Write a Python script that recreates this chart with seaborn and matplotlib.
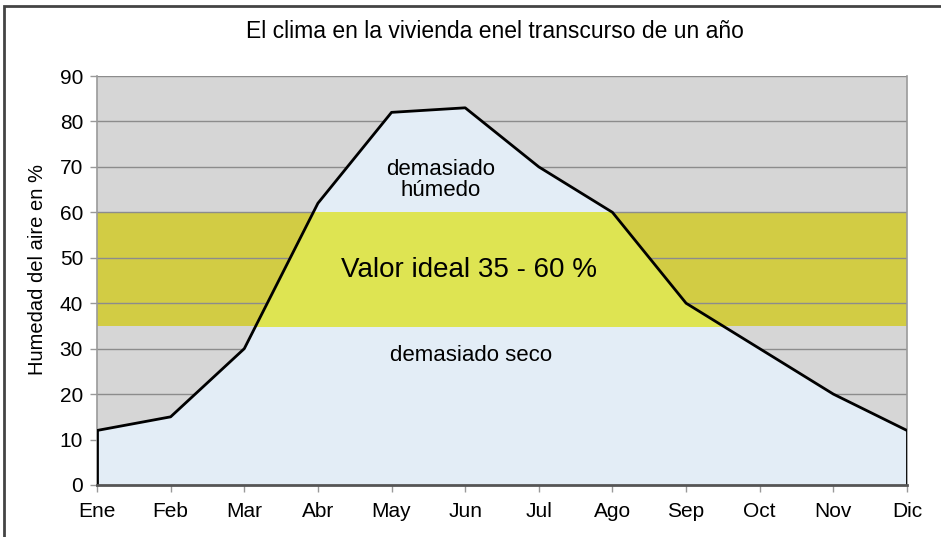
import numpy as np
import pandas as pd
import matplotlib
matplotlib.use("Agg")
import matplotlib.pyplot as plt
import seaborn as sns
from matplotlib.patches import Rectangle

months = ["Ene", "Feb", "Mar", "Abr", "May", "Jun", "Jul", "Ago", "Sep", "Oct", "Nov", "Dic"]
humidity = [12, 15, 30, 62, 82, 83, 70, 60, 40, 30, 20, 12]
ideal_low, ideal_high = 35, 60
yticks = [0, 10, 20, 30, 40, 50, 60, 70, 80, 90]

title = "El clima en la vivienda enel transcurso de un año"
ylabel = "Humedad del aire en %"

sns.set_theme(style="white")
plt.rcParams["font.family"] = ["Liberation Sans", "DejaVu Sans"]
plt.rcParams["text.color"] = "black"
plt.rcParams["axes.labelcolor"] = "black"

df = pd.DataFrame({"idx": np.arange(len(months)), "hum": humidity})

fig = plt.figure(figsize=(9.41, 5.37), dpi=100)
ax = fig.add_axes([97/941, 1-485/537, (907-97)/941, (485-76)/537])

ax.set_facecolor("#d6d6d6")
ax.axhspan(ideal_low, ideal_high, color="#d2cc44", zorder=0.8, lw=0)

ax.set_axisbelow("line")
ax.yaxis.grid(True, color="#8c8c8c", lw=1.0)
ax.xaxis.grid(False)

x = df["idx"].values
y = df["hum"].values
ax.fill_between(x, 0, y, color="#e3edf6", lw=0, zorder=2)
yel = ax.fill_between(x, 0, y, color="#dee452", lw=0, zorder=2.1)
clip = Rectangle((x[0], ideal_low), x[-1]-x[0], ideal_high-ideal_low, transform=ax.transData)
yel.set_clip_path(clip)

sns.lineplot(data=df, x="idx", y="hum", color="black", lw=2, ax=ax, zorder=3)
ax.vlines([x[0], x[-1]], 0, [y[0], y[-1]], color="black", lw=2, zorder=3)

ax.set_xlim(x[0], x[-1])
ax.set_ylim(0, 90)
ax.set_xticks(x)
ax.set_xticklabels(months)
ax.set_yticks(yticks)
ax.set_xlabel("")
ax.set_ylabel(ylabel, fontsize=14.5)
ax.yaxis.set_label_coords(-0.062, 0.526)
ax.tick_params(axis="both", labelsize=15, labelcolor="black", length=5, width=1,
               direction="out", left=True, bottom=True, color="#999999")
ax.tick_params(axis="x", pad=7)
ax.tick_params(axis="y", pad=5)

for s in ["left", "right", "top"]:
    ax.spines[s].set_color("#9a9a9a")
    ax.spines[s].set_linewidth(1.2)
ax.spines["top"].set_visible(False)
ax.spines["bottom"].set_color("#555555")
ax.spines["bottom"].set_linewidth(2)
ax.spines["bottom"].set_zorder(4)

ax.text(4.66, 67.2, "demasiado\nhúmedo", ha="center", va="center", fontsize=16,
        linespacing=1.0, zorder=5, color="black")
ax.text(5.05, 47.3, "Valor ideal 35 - 60 %", ha="center", va="center", fontsize=20, zorder=5,
        color="black")
ax.text(5.08, 28.4, "demasiado seco", ha="center", va="center", fontsize=16, zorder=5,
        color="black")

fig.text(495/941, 1-32/537, title, ha="center", va="center", fontsize=16.5, color="black")

fig.patches.append(Rectangle((4/941, -0.1), 1.2, 1-6/537+0.1, transform=fig.transFigure,
                             fill=False, edgecolor="#444444", lw=2))

fig.savefig("out.png", dpi=100)
